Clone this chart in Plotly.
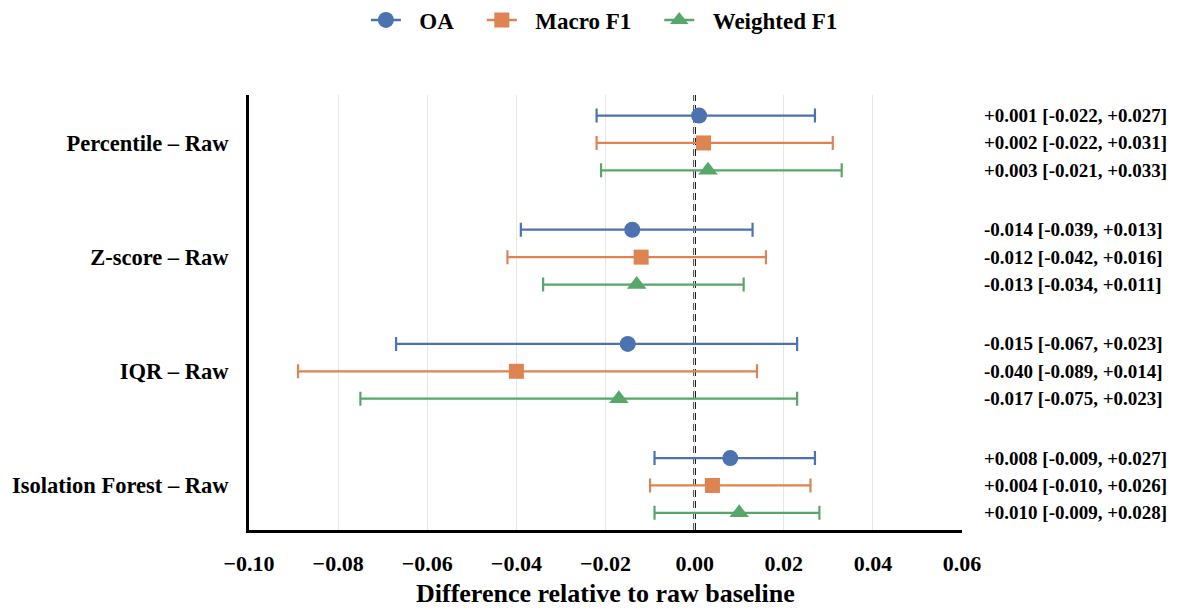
import plotly.graph_objects as go

categories = ["Percentile \u2013 Raw", "Z-score \u2013 Raw", "IQR \u2013 Raw", "Isolation Forest \u2013 Raw"]
series = ["OA", "Macro F1", "Weighted F1"]

oa_mean = [0.001, -0.014, -0.015, 0.008]
oa_lo = [-0.022, -0.039, -0.067, -0.009]
oa_hi = [0.027, 0.013, 0.023, 0.027]

macro_mean = [0.002, -0.012, -0.040, 0.004]
macro_lo = [-0.022, -0.042, -0.089, -0.010]
macro_hi = [0.031, 0.016, 0.014, 0.026]

weighted_mean = [0.003, -0.013, -0.017, 0.010]
weighted_lo = [-0.021, -0.034, -0.075, -0.009]
weighted_hi = [0.033, 0.011, 0.023, 0.028]

x_ticks = [-0.10, -0.08, -0.06, -0.04, -0.02, 0.00, 0.02, 0.04, 0.06]
x_tick_labels = ["\u22120.10", "\u22120.08", "\u22120.06", "\u22120.04", "\u22120.02", "0.00", "0.02", "0.04", "0.06"]
x_title = "Difference relative to raw baseline"

colors = ["#4C72B0", "#DD8452", "#55A868"]
symbols = ["circle", "square", "triangle-up"]
sizes = [16, 15, 17]
offsets = [-0.24, 0.0, 0.24]

data = [
    (oa_mean, oa_lo, oa_hi),
    (macro_mean, macro_lo, macro_hi),
    (weighted_mean, weighted_lo, weighted_hi),
]

FONT = "Liberation Serif"
NB = "\u00a0"
HAIR = "\u200a"
W, H = 1183, 611

fig = go.Figure()

fig.add_shape(type="line", x0=0, x1=0, y0=0, y1=1, xref="x", yref="paper",
              line=dict(color="black", width=2.5, dash="7px,4px"), layer="below")

def fmt(v):
    return ("+" if v >= 0 else "-") + f"{abs(v):.3f}"

annotations = []
for s, (name, (m, lo, hi)) in enumerate(zip(series, data)):
    ys = [i + offsets[s] for i in range(len(categories))]
    fig.add_trace(go.Scatter(
        x=m, y=ys, mode="markers", name=name, showlegend=False,
        marker=dict(color=colors[s], symbol=symbols[s], size=sizes[s], line=dict(width=0)),
        error_x=dict(type="data", symmetric=False,
                     array=[h - v for h, v in zip(hi, m)],
                     arrayminus=[v - l for v, l in zip(m, lo)],
                     color=colors[s], thickness=2.2, width=7),
    ))
    # legend entry (marker with a short line, mimicking the error-bar glyph)
    fig.add_trace(go.Scatter(
        x=[None], y=[None], mode="lines+markers",
        name=f"{NB * 2}{HAIR}<b>{name}</b>{NB * 4}",
        marker=dict(color=colors[s], symbol=symbols[s], size=sizes[s], line=dict(width=0)),
        line=dict(color=colors[s], width=2.5),
    ))
    for i in range(len(categories)):
        annotations.append(dict(
            x=1.028, xref="paper", y=ys[i], yref="y", xanchor="left", yanchor="middle",
            text=f"<b>{fmt(m[i])} [{fmt(lo[i])}, {fmt(hi[i])}]</b>",
            showarrow=False, font=dict(family=FONT, size=19, color="black"),
        ))

annotations.append(dict(
    x=0.5, xref="paper", y=0, yref="paper", xanchor="center", yanchor="middle", yshift=-63,
    text=f"<b>{x_title}</b>", showarrow=False, font=dict(family=FONT, size=26, color="black"),
))

fig.update_layout(
    width=W, height=H,
    margin=dict(l=249, r=221, t=95, b=81),
    plot_bgcolor="white", paper_bgcolor="white",
    font=dict(family=FONT, color="black"),
    legend=dict(orientation="h", x=0.3093, xref="container", xanchor="left",
                y=1 - 20 / H, yref="container", yanchor="middle",
                font=dict(family=FONT, size=23, color="black"),
                itemwidth=30, tracegroupgap=0),
    annotations=annotations,
    showlegend=True,
)

fig.update_xaxes(
    range=[-0.10, 0.06], tickvals=x_ticks, ticktext=[f"<b>{t}</b>" for t in x_tick_labels],
    tickfont=dict(family=FONT, size=22, color="black"),
    showgrid=True, gridcolor="#E6E6E6", gridwidth=1,
    showline=True, linecolor="black", linewidth=3, zeroline=False,
    ticks="", ticklabelstandoff=12, automargin=False,
)
fig.update_yaxes(
    range=[3.39, -0.42], tickvals=list(range(len(categories))),
    ticktext=[f"<b>{c}</b>" for c in categories],
    tickfont=dict(family=FONT, size=22.5, color="black"),
    showgrid=False, showline=True, linecolor="black", linewidth=3, zeroline=False,
    ticks="", ticklabelstandoff=13, automargin=False,
)

fig.write_html("out.html", config={"displayModeBar": False},
               post_script="document.body.style.margin='0';document.body.style.overflow='hidden';")
